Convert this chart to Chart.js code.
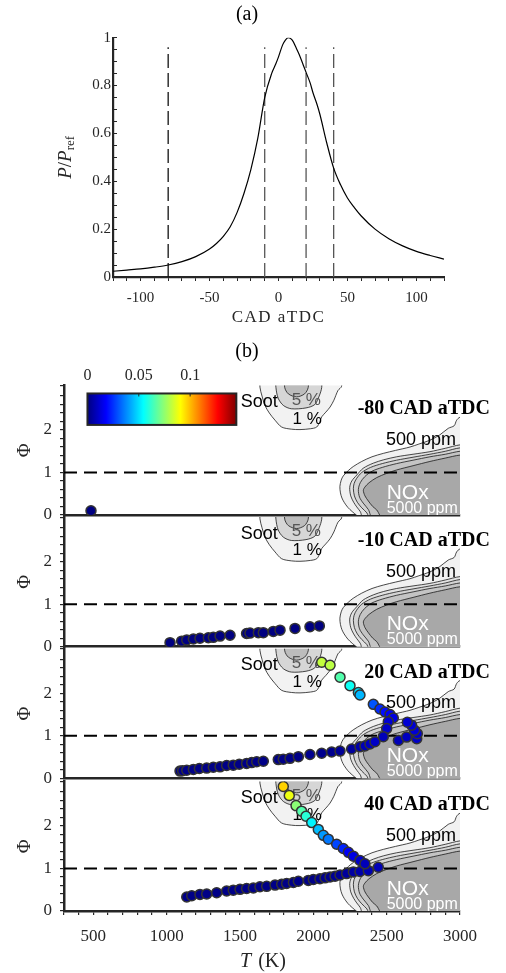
<!DOCTYPE html>
<html>
<head>
<meta charset="utf-8">
<title>Pressure trace and Phi-T maps</title>
<script src="https://cdn.jsdelivr.net/npm/chart.js@4.4.1/dist/chart.umd.min.js"></script>
<style>
  html, body { margin: 0; padding: 0; background: #fff; }
  body { position: relative; width: 506px; height: 973px; overflow: hidden; }
  canvas { position: absolute; left: 0; }
</style>
</head>
<body>
<canvas id="pa" width="506" height="362" style="top:0"></canvas>
<script>
// ---- (a) pressure trace ----
const cad    = [-120, -110, -100, -90, -80, -70, -60, -50, -45, -40, -35, -30, -25, -20, -15, -10, -5, -2, 0, 3, 5, 7, 10, 13, 15, 18, 20, 23, 25, 28, 30, 35, 40, 45, 50, 55, 60, 70, 80, 90, 100, 110, 120];
const pRatio = [0.024, 0.029, 0.034, 0.041, 0.050, 0.064, 0.085, 0.117, 0.14, 0.17, 0.21, 0.27, 0.35, 0.45, 0.58, 0.75, 0.85, 0.89, 0.92, 0.97, 0.99, 1.0, 0.99, 0.955, 0.93, 0.885, 0.855, 0.81, 0.77, 0.72, 0.68, 0.56, 0.455, 0.385, 0.33, 0.29, 0.255, 0.2, 0.16, 0.13, 0.107, 0.09, 0.075];
const snapshotCAD = [-80, -10, 20, 40];
const snapshotTitles = ['-80 CAD aTDC', '-10 CAD aTDC', '20 CAD aTDC', '40 CAD aTDC'];

// ---- (b) scatter of (T, Phi) coloured by soot ----
const p1T = [484];
const p1Phi = [0.10];
const p1Soot = [0];

const p2T = [1023, 1102, 1137, 1182, 1227, 1284, 1318, 1364, 1432, 1545, 1568, 1625, 1659, 1727, 1773, 1875, 1977, 2041];
const p2Phi = [0.095, 0.13, 0.16, 0.18, 0.20, 0.21, 0.22, 0.25, 0.27, 0.31, 0.32, 0.33, 0.33, 0.36, 0.39, 0.43, 0.47, 0.49];
const p2Soot = [0, 0, 0, 0, 0, 0, 0, 0, 0, 0, 0, 0, 0, 0, 0, 0, 0, 0];

const p3T = [1091, 1109, 1137, 1182, 1223, 1273, 1318, 1364, 1409, 1454, 1495, 1545, 1580, 1614, 1659, 1761, 1795, 1841, 1898, 1977, 2057, 2125, 2182, 2261, 2318, 2352, 2386, 2420,
             2580, 2636, 2705, 2709, 2690, 2670, 2641,
             2057, 2114, 2182, 2250, 2307, 2318, 2409, 2454, 2489, 2523, 2545, 2511, 2500, 2477];
const p3Phi = [0.17, 0.18, 0.19, 0.21, 0.23, 0.24, 0.26, 0.27, 0.30, 0.31, 0.33, 0.35, 0.37, 0.39, 0.40, 0.44, 0.45, 0.47, 0.51, 0.56, 0.59, 0.62, 0.64, 0.69, 0.74, 0.76, 0.81, 0.86,
               0.89, 0.97, 0.93, 1.05, 1.13, 1.25, 1.32,
               2.73, 2.66, 2.38, 2.18, 2.02, 1.96, 1.74, 1.63, 1.56, 1.50, 1.42, 1.33, 1.17, 0.98];
const p3Soot = [0.001, 0.001, 0.001, 0.001, 0.001, 0.001, 0.001, 0.001, 0.001, 0.001, 0.001, 0.001, 0.001, 0.001, 0.001, 0.001, 0.001, 0.001, 0.001, 0.002, 0.002, 0.002, 0.003, 0.004, 0.006, 0.008, 0.009, 0.01,
                0.008, 0.009, 0.01, 0.011, 0.012, 0.012, 0.012,
                0.082, 0.081, 0.066, 0.056, 0.05, 0.044, 0.03, 0.024, 0.02, 0.017, 0.014, 0.012, 0.01, 0.008];

const p4T = [1137, 1171, 1227, 1273, 1341, 1409, 1454, 1500, 1545, 1591, 1636, 1682, 1739, 1784, 1818, 1864, 1898, 1966, 2000, 2045, 2080, 2114, 2148, 2182, 2227, 2273, 2318, 2375, 2443,
             1795, 1836, 1882, 1920, 1950, 1989, 2034, 2068, 2102, 2159, 2204, 2239, 2273, 2318, 2352];
const p4Phi = [0.33, 0.36, 0.39, 0.40, 0.43, 0.47, 0.49, 0.51, 0.53, 0.54, 0.57, 0.58, 0.61, 0.63, 0.65, 0.67, 0.70, 0.72, 0.74, 0.76, 0.78, 0.80, 0.82, 0.85, 0.88, 0.92, 0.93, 0.95, 1.03,
               2.93, 2.72, 2.48, 2.35, 2.23, 2.08, 1.92, 1.78, 1.69, 1.57, 1.47, 1.38, 1.29, 1.19, 1.11];
const p4Soot = [0.001, 0.001, 0.001, 0.001, 0.001, 0.001, 0.001, 0.001, 0.001, 0.001, 0.001, 0.001, 0.001, 0.001, 0.001, 0.001, 0.001, 0.001, 0.001, 0.002, 0.002, 0.002, 0.003, 0.003, 0.004, 0.005, 0.006, 0.007, 0.008,
                0.097, 0.088, 0.074, 0.066, 0.06, 0.053, 0.045, 0.04, 0.035, 0.028, 0.023, 0.017, 0.014, 0.011, 0.008];

const colorbarTicks = [0, 0.05, 0.1];
const sootMax = 0.145;
const tRange = [300, 3000];
const phiRange = [0, 3.05];
const phiStoich = 1;

// ---- background maps (same in every panel) ----
const soot1T   = [1636, 1636, 1650, 1670, 1700, 1739, 1784, 1850, 1909, 1980, 2023, 2045, 2057, 2085, 2114, 2140, 2168, 2193, 2193];
const soot1Phi = [3.4, 3.01, 2.8, 2.58, 2.4, 2.23, 2.07, 2.02, 2.01, 2.03, 2.07, 2.2, 2.31, 2.42, 2.54, 2.7, 2.93, 3.03, 3.4];
const soot2T   = [1739, 1745, 1760, 1795, 1850, 1950, 2010, 2040, 2057, 2060];
const soot2Phi = [3.4, 3.0, 2.75, 2.58, 2.5, 2.52, 2.6, 2.8, 3.0, 3.4];
const soot3T   = [1800, 1805, 1830, 1886, 1940, 1965, 1970];
const soot3Phi = [3.4, 3.0, 2.85, 2.78, 2.85, 3.0, 3.4];

const nox1T   = [3100, 3000, 2977, 2960, 2920, 2860, 2795, 2720, 2659, 2560, 2477, 2400, 2330, 2272, 2240, 2204, 2190, 2181, 2185, 2195, 2210, 2235, 2265, 2300, 2330, 3100];
const nox1Phi = [2.3, 2.3, 2.23, 2.1, 2.04, 1.88, 1.76, 1.67, 1.60, 1.52, 1.45, 1.37, 1.26, 1.14, 1.05, 0.92, 0.82, 0.67, 0.52, 0.4, 0.3, 0.18, 0.08, -0.02, -0.1, -0.3];
const nox2T   = [3100, 3000, 2900, 2795, 2680, 2568, 2480, 2409, 2340, 2296, 2262, 2248, 2255, 2275, 2296, 2320, 2345, 3100];
const nox2Phi = [1.65, 1.65, 1.57, 1.49, 1.43, 1.37, 1.30, 1.22, 1.10, 0.94, 0.80, 0.65, 0.45, 0.3, 0.19, 0.08, -0.1, -0.3];
const nox3T   = [3100, 3000, 2900, 2795, 2680, 2568, 2470, 2390, 2330, 2295, 2278, 2273, 2280, 2300, 2330, 2365, 2390, 3100];
const nox3Phi = [1.58, 1.58, 1.50, 1.43, 1.36, 1.29, 1.21, 1.12, 1.0, 0.86, 0.74, 0.62, 0.45, 0.3, 0.17, 0.05, -0.1, -0.3];
const nox4T   = [3100, 3000, 2900, 2795, 2680, 2568, 2470, 2400, 2350, 2320, 2307, 2315, 2340, 2375, 2410, 3100];
const nox4Phi = [1.5, 1.5, 1.43, 1.37, 1.29, 1.21, 1.12, 1.03, 0.9, 0.76, 0.6, 0.42, 0.28, 0.13, -0.1, -0.3];
const nox5T   = [3100, 3000, 2900, 2795, 2680, 2568, 2500, 2432, 2380, 2352, 2341, 2352, 2375, 2405, 2432, 2480, 3100];
const nox5Phi = [1.41, 1.41, 1.34, 1.26, 1.16, 1.06, 0.98, 0.88, 0.76, 0.66, 0.58, 0.45, 0.33, 0.2, 0.12, -0.1, -0.3];

const SERIF = '"Liberation Serif", "Times New Roman", serif';
const SANS = '"Liberation Sans", Arial, sans-serif';
const INK = '#262626';

function jet(v) {
  const t = Math.min(1, Math.max(0, v / sootMax));
  const ch = c => Math.round(255 * Math.min(1, Math.max(0, 1.5 - Math.abs(4 * t - c))));
  return 'rgb(' + ch(3) + ',' + ch(2) + ',' + ch(1) + ')';
}
const xy = (xs, ys) => xs.map((x, i) => ({x: x, y: ys[i]}));
const near = (v, step) => Math.abs(v / step - Math.round(v / step)) < 1e-6;
// pin a scale to a fixed size and drop the label overflow padding
const pin = (prop, size) => s => {
  s[prop] = size;
  s.paddingTop = 0; s.paddingBottom = 0; s.paddingLeft = 0; s.paddingRight = 0;
};

// ---------------- (a) ----------------
const topLabels = {
  id: 'topLabels',
  afterDraw(chart) {
    const {ctx, chartArea: a} = chart;
    ctx.save();
    ctx.fillStyle = '#000';
    ctx.textAlign = 'center';
    ctx.textBaseline = 'middle';
    ctx.font = '20px ' + SERIF;
    ctx.fillText('(a)', 247, 15);
    ctx.fillText('(b)', 247, 352);
    ctx.fillStyle = INK;
    ctx.font = '17px ' + SERIF;
    ctx.letterSpacing = '1.5px';
    ctx.fillText('CAD aTDC', (a.left + a.right) / 2, 318);
    ctx.letterSpacing = '0px';
    ctx.translate(66, (a.top + a.bottom) / 2);
    ctx.rotate(-Math.PI / 2);
    const parts = [['italic 19px ', 'P', 0], ['19px ', '/', 0], ['italic 19px ', 'P', 0], ['13px ', 'ref', 5]];
    let w = 0;
    parts.forEach(p => { ctx.font = p[0] + SERIF; w += ctx.measureText(p[1]).width; });
    let x = -w / 2;
    ctx.textAlign = 'left';
    parts.forEach(p => { ctx.font = p[0] + SERIF; ctx.fillText(p[1], x, p[2]); x += ctx.measureText(p[1]).width; });
    ctx.restore();
  }
};

new Chart(document.getElementById('pa'), {
  type: 'line',
  data: {
    datasets: [
      { data: xy(cad, pRatio), borderColor: '#000', borderWidth: 1.2, pointRadius: 0, cubicInterpolationMode: 'monotone' },
      ...snapshotCAD.map((c, i) => ({
        data: [{x: c, y: 0}, {x: c, y: 0.96}],
        borderColor: i === 0 ? '#111' : '#555', borderWidth: 1.3, borderDash: [14, 5], pointRadius: 0
      }))
    ]
  },
  options: {
    responsive: false, animation: false, events: [],
    layout: { padding: { left: 63, right: 62, top: 37.7, bottom: 0 } },
    plugins: { legend: { display: false }, tooltip: { enabled: false } },
    scales: {
      x: {
        type: 'linear', min: -120, max: 120,
        afterFit: pin('height', 85),
        border: { color: INK, width: 2.2 },
        grid: { drawOnChartArea: false, tickLength: 4, color: INK, lineWidth: 1 },
        ticks: { stepSize: 10, autoSkip: false, maxRotation: 0, padding: 8, color: INK,
                 font: { family: SERIF, size: 15 }, callback: v => near(v, 50) ? String(v) : '' }
      },
      y: {
        min: 0, max: 1,
        afterFit: pin('width', 50),
        border: { color: INK, width: 2.2 },
        grid: { drawOnChartArea: false, tickLength: -4, color: INK, lineWidth: 1 },
        ticks: { stepSize: 0.05, autoSkip: false, padding: 6, color: INK,
                 font: { family: SERIF, size: 15 }, callback: v => near(v, 0.2) ? String(Math.round(v * 10) / 10) : '' }
      }
    }
  },
  plugins: [topLabels]
});

// ---------------- (b) ----------------
const panelT = [p1T, p2T, p3T, p4T];
const panelPhi = [p1Phi, p2Phi, p3Phi, p4Phi];
const panelSoot = [p1Soot, p2Soot, p3Soot, p4Soot];
const panelGeo = [
  { top: 362, h: 173, areaTop: 385.4, areaBottom: 515 },
  { top: 505, h: 162, areaTop: 517.1, areaBottom: 646.7 },
  { top: 637, h: 162, areaTop: 648.7, areaBottom: 778.3 },
  { top: 770, h: 203, areaTop: 781.4, areaBottom: 911 }
];

function contour(Ts, Ps, color) {
  return { data: xy(Ts, Ps), fill: 'shape', backgroundColor: color, borderColor: '#1a1a1a', borderWidth: 0.8,
           pointRadius: 0, tension: 0.3, capBezierPoints: false };
}

function panelChart(k) {
  const g = panelGeo[k];
  const last = k === panelGeo.length - 1;
  const cv = document.createElement('canvas');
  cv.width = 506; cv.height = g.h; cv.style.top = g.top + 'px';
  document.body.appendChild(cv);

  const put = (ctx, x, y, text, T, P, font, color, align) => {
    ctx.font = font; ctx.fillStyle = color; ctx.textAlign = align;
    ctx.fillText(text, x.getPixelForValue(T), y.getPixelForValue(P));
  };

  const panelText = {
    id: 'panelText' + k,
    afterDatasetDraw(chart, args) {
      if (args.index !== 2) return;
      const {ctx, chartArea: a, scales: {x, y}} = chart;
      ctx.save();
      ctx.textBaseline = 'middle';
      ctx.save();
      ctx.beginPath(); ctx.rect(a.left, a.top, a.right - a.left, a.bottom - a.top); ctx.clip();
      put(ctx, x, y, 'Soot', 1505, 2.66, '18px ' + SANS, '#000', 'left');
      put(ctx, x, y, '5 %', 1852, 2.71, '17px ' + SANS, '#555', 'left');
      put(ctx, x, y, '1 %', 1858, 2.26, '17px ' + SANS, '#000', 'left');
      put(ctx, x, y, '500 ppm', 2495, 1.76, '18px ' + SANS, '#000', 'left');
      put(ctx, x, y, 'NOx', 2500, 0.52, '21px ' + SANS, '#fff', 'left');
      put(ctx, x, y, '5000 ppm', 2500, 0.16, '16px ' + SANS, '#fff', 'left');
      ctx.restore();
      put(ctx, x, y, snapshotTitles[k], 3204, 2.49, 'bold 20px ' + SERIF, '#000', 'right');
      ctx.restore();
    },
    afterDraw(chart) {
      const {ctx, chartArea: a, scales: {x, y}} = chart;
      ctx.save();
      ctx.fillStyle = INK;
      ctx.textAlign = 'center';
      ctx.textBaseline = 'middle';
      ctx.translate(25, (a.top + a.bottom) / 2);
      ctx.rotate(-Math.PI / 2);
      ctx.font = '19px ' + SERIF;
      ctx.fillText('\u03A6', 0, 0);
      ctx.restore();
      if (last) {
        ctx.save();
        ctx.fillStyle = INK;
        ctx.textBaseline = 'middle';
        ctx.textAlign = 'left';
        const cx = (a.left + a.right) / 2;
        const ty = 962 - g.top;
        ctx.font = 'italic 20px ' + SERIF;
        const w1 = ctx.measureText('T').width;
        ctx.font = '20px ' + SERIF;
        const w2 = ctx.measureText(' (K)').width;
        ctx.font = 'italic 20px ' + SERIF;
        ctx.fillText('T', cx - (w1 + w2) / 2, ty);
        ctx.font = '20px ' + SERIF;
        ctx.fillText(' (K)', cx - (w1 + w2) / 2 + w1 + 2, ty);
        ctx.restore();
      }
      if (k === 0) {
        // colour bar
        const x0 = x.getPixelForValue(460), x1 = x.getPixelForValue(1475);
        const y0 = y.getPixelForValue(2.86), y1 = y.getPixelForValue(2.12);
        const grad = ctx.createLinearGradient(x0, 0, x1, 0);
        for (let i = 0; i <= 32; i++) grad.addColorStop(i / 32, jet(sootMax * i / 32));
        ctx.save();
        ctx.fillStyle = grad;
        ctx.fillRect(x0, y0, x1 - x0, y1 - y0);
        ctx.strokeStyle = INK; ctx.lineWidth = 2;
        ctx.strokeRect(x0, y0, x1 - x0, y1 - y0);
        ctx.fillStyle = INK; ctx.textAlign = 'center'; ctx.textBaseline = 'middle';
        ctx.font = '16px ' + SERIF;
        ctx.lineWidth = 1;
        colorbarTicks.forEach(v => {
          const px = x0 + v / sootMax * (x1 - x0);
          ctx.fillText(String(v), px, y0 - 18);
          if (v > 0) { ctx.beginPath(); ctx.moveTo(px, y0); ctx.lineTo(px, y0 + 3); ctx.stroke(); }
        });
        ctx.restore();
      }
    }
  };

  return new Chart(cv, {
    type: 'line',
    data: {
      datasets: [
        { data: xy(panelT[k], panelPhi[k]), showLine: false, pointRadius: 5, pointBorderWidth: 1.5,
          pointBorderColor: '#333', pointBackgroundColor: panelSoot[k].map(jet) },
        { data: [{x: tRange[0], y: phiStoich}, {x: tRange[1], y: phiStoich}], borderColor: '#000',
          borderWidth: 2, borderDash: [13, 7], pointRadius: 0 },
        contour(nox5T, nox5Phi, '#a8a8a8'),
        contour(nox4T, nox4Phi, '#c4c4c4'),
        contour(nox3T, nox3Phi, '#d3d3d3'),
        contour(nox2T, nox2Phi, '#e2e2e2'),
        contour(nox1T, nox1Phi, '#f1f1f1'),
        contour(soot3T, soot3Phi, '#bcbcbc'),
        contour(soot2T, soot2Phi, '#d6d6d6'),
        contour(soot1T, soot1Phi, '#f2f2f2')
      ]
    },
    options: {
      responsive: false, animation: false, events: [],
      layout: { padding: { left: 0, right: 46, top: g.areaTop - g.top, bottom: 0 } },
      plugins: { legend: { display: false }, tooltip: { enabled: false } },
      scales: {
        x: {
          type: 'linear', min: tRange[0], max: tRange[1],
          afterFit: pin('height', g.top + g.h - g.areaBottom),
          border: { color: INK, width: 2.5 },
          grid: { drawOnChartArea: false, drawTicks: last, tickLength: 4, color: INK, lineWidth: 1.2 },
          ticks: { display: last, stepSize: 100, autoSkip: false, maxRotation: 0, padding: 11, color: INK,
                   font: { family: SERIF, size: 17 }, callback: v => near(v, 500) ? String(v) : '' }
        },
        y: {
          min: phiRange[0], max: phiRange[1],
          afterFit: pin('width', 64),
          border: { color: INK, width: 2.5 },
          grid: { drawOnChartArea: false, tickLength: 4, color: INK, lineWidth: 1.2 },
          ticks: { stepSize: 0.2, autoSkip: false, padding: 8, color: INK,
                   font: { family: SERIF, size: 17 }, callback: v => (near(v, 1) && v < 2.5) ? String(Math.round(v)) : '' }
        }
      }
    },
    plugins: [panelText]
  });
}

panelGeo.forEach((g, k) => panelChart(k));
</script>
</body>
</html>
